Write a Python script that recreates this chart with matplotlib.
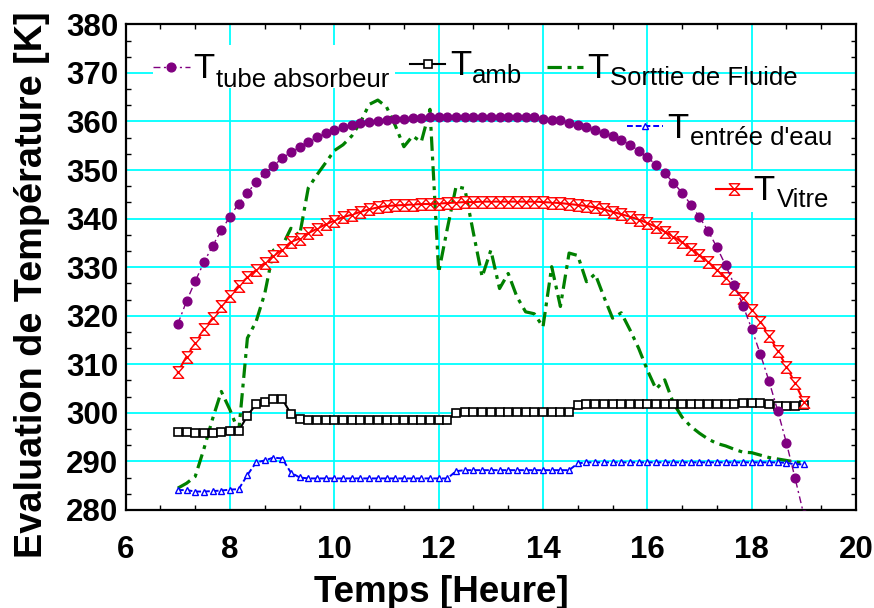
import numpy as np
import matplotlib.pyplot as plt
from matplotlib.path import Path
from matplotlib.patches import Rectangle
from matplotlib.ticker import MultipleLocator, AutoMinorLocator

plt.rcParams['font.family'] = ['Liberation Sans', 'DejaVu Sans']

# one reading every 10 minutes from 7h to 19h
temps = np.linspace(7, 19, 73)

t_tube = [318.3, 323.0, 327.1, 331.0, 334.4, 337.6, 340.4, 343.1, 345.3, 347.5,
          349.3, 350.9, 352.4, 353.7, 354.8, 355.8, 356.7, 357.6, 358.2, 358.8,
          359.3, 359.6, 359.9, 360.0, 360.3, 360.5, 360.6, 360.7, 360.8, 360.9,
          361.0, 361.0, 361.0, 361.0, 361.0, 361.0, 361.0, 361.0, 361.0, 361.0,
          361.0, 360.9, 360.6, 360.4, 360.2, 359.7, 359.3, 358.9, 358.2, 357.7,
          357.0, 356.2, 355.2, 354.0, 352.6, 351.1, 349.3, 347.4, 345.3, 342.9,
          340.3, 337.4, 334.1, 330.4, 326.4, 322.1, 317.3, 312.1, 306.5, 300.4,
          293.8, 286.5, 279.0]

t_amb = [296.1, 296.1, 295.8, 295.8, 295.9, 296.1, 296.3, 296.3, 299.4, 301.8,
         302.3, 302.9, 302.9, 299.8, 298.7, 298.6, 298.6, 298.6, 298.6, 298.6,
         298.6, 298.6, 298.6, 298.6, 298.6, 298.6, 298.6, 298.6, 298.6, 298.6,
         298.6, 298.6, 299.9, 300.2, 300.2, 300.2, 300.2, 300.2, 300.2, 300.2,
         300.2, 300.2, 300.2, 300.2, 300.2, 300.2, 301.6, 301.9, 301.9, 301.9,
         301.9, 301.9, 301.9, 301.9, 301.9, 301.9, 301.9, 301.9, 301.9, 301.9,
         301.9, 301.9, 301.9, 301.9, 301.9, 302.0, 302.0, 302.1, 301.8, 301.5,
         301.4, 301.4, 301.6]

t_sortie = [284.5, 285.5, 286.9, 292.6, 298.8, 304.4, 300.6, 296.1, 315.4, 318.8,
            324.6, 333.5, 334.3, 338.0, 336.5, 346.3, 349.0, 351.5, 354.0, 355.2,
            357.0, 359.8, 363.5, 364.4, 363.0, 359.2, 354.8, 357.0, 355.8, 362.5,
            328.9, 338.0, 346.6, 346.2, 337.0, 328.0, 333.5, 325.6, 328.7, 323.9,
            320.8, 320.4, 317.7, 330.1, 321.9, 332.9, 332.4, 327.0, 328.6, 323.9,
            319.5, 320.6, 317.1, 313.3, 308.8, 304.9, 306.8, 302.0, 299.1, 297.2,
            295.8, 294.6, 293.7, 293.2, 292.5, 291.9, 291.8, 291.3, 290.8, 290.5,
            290.2, 289.9, 289.7]

t_entree = [284.1, 284.1, 283.8, 283.8, 283.9, 284.0, 284.2, 284.3, 287.2, 289.8,
            290.2, 290.8, 290.6, 287.7, 286.7, 286.5, 286.5, 286.5, 286.5, 286.5,
            286.5, 286.5, 286.5, 286.5, 286.5, 286.5, 286.5, 286.5, 286.5, 286.5,
            286.5, 286.5, 288.0, 288.2, 288.2, 288.2, 288.2, 288.2, 288.2, 288.2,
            288.2, 288.2, 288.2, 288.2, 288.2, 288.2, 289.6, 289.8, 289.8, 289.8,
            289.8, 289.8, 289.8, 289.8, 289.8, 289.8, 289.8, 289.8, 289.8, 289.8,
            289.8, 289.8, 289.8, 289.8, 289.8, 289.8, 289.8, 289.8, 289.8, 289.8,
            289.7, 289.4, 289.4]

t_vitre = [308.4, 311.6, 314.3, 317.2, 319.5, 321.9, 324.1, 326.2, 327.9, 329.4,
           330.9, 332.3, 333.6, 335.2, 335.9, 337.0, 337.9, 338.8, 339.6, 340.3,
           340.8, 341.4, 341.9, 342.3, 342.6, 342.7, 342.8, 342.9, 343.0, 343.0,
           343.1, 343.2, 343.3, 343.4, 343.4, 343.5, 343.5, 343.5, 343.5, 343.5,
           343.5, 343.5, 343.4, 343.3, 343.2, 343.0, 342.8, 342.6, 342.3, 341.9,
           341.4, 340.9, 340.4, 339.8, 339.1, 338.3, 337.3, 336.3, 335.1, 333.7,
           332.5, 331.1, 329.4, 327.7, 325.6, 323.6, 321.2, 318.8, 315.8, 312.8,
           309.5, 306.1, 302.3]

# hourglass marker for the glass temperature
hourglass = Path([(-0.9, 1), (0.9, 1), (-0.9, -1), (0.9, -1), (-0.9, 1)],
                 [Path.MOVETO, Path.LINETO, Path.LINETO, Path.LINETO, Path.CLOSEPOLY])

styles = {
    'tube': dict(color='#800080', lw=1, dashes=(5, 2.5, 1.5, 2.5), marker='o', ms=6.3,
                 mfc='#800080', mec='#800080'),
    'amb': dict(color='black', lw=1.5, marker='s', ms=6.3, mfc='white', mec='black', mew=1.2),
    'sortie': dict(color='#008000', lw=2.3, dashes=(4.5, 1.8, 1.2, 1.8)),
    'entree': dict(color='blue', lw=1.4, dashes=(3, 1.5), marker='^', ms=4.8,
                   mfc='white', mec='blue', mew=1),
    'vitre': dict(color='red', lw=1.5, marker=hourglass, ms=8.3, mfc='white', mec='red', mew=1),
}

fig = plt.figure(figsize=(8.74, 6.08), dpi=100)
ax = fig.add_axes([0.1438, 0.1612, 0.8356, 0.7988])

ax.plot(temps, t_sortie, zorder=2, **styles['sortie'])
ax.plot(temps, t_entree, zorder=3, **styles['entree'])
ax.plot(temps, t_amb, zorder=3, **styles['amb'])
ax.plot(temps, t_vitre, zorder=4, **styles['vitre'])
ax.plot(temps, t_tube, zorder=4, **styles['tube'])

ax.set_xlim(6, 20)
ax.set_ylim(280, 380)
ax.xaxis.set_major_locator(MultipleLocator(2))
ax.yaxis.set_major_locator(MultipleLocator(10))
ax.xaxis.set_minor_locator(AutoMinorLocator(3))
ax.yaxis.set_minor_locator(AutoMinorLocator(3))

ax.grid(True, which='major', color='cyan', lw=1.3)
ax.set_axisbelow(True)

for s in ax.spines.values():
    s.set_linewidth(1.6)

ax.tick_params(which='both', direction='in', top=True, right=True, width=1)
ax.tick_params(which='major', length=0, labelsize=22.5)
ax.tick_params(which='minor', length=3.3)
ax.tick_params(axis='x', which='major', pad=18)
ax.tick_params(axis='y', which='major', pad=5.5)
for lab in ax.get_xticklabels() + ax.get_yticklabels():
    lab.set_fontweight('bold')

ax.set_xlabel('Temps [Heure]', fontsize=26.5, fontweight='bold')
ax.xaxis.label.set_va('baseline')
ax.xaxis.set_label_coords(0.4327, -0.1888)
ax.set_ylabel('Evaluation de Température [K]', fontsize=27.3, fontweight='bold')
ax.yaxis.label.set_va('baseline')
ax.yaxis.set_label_coords(-0.115, 0.463)


def legend_entry(key, x0, x1, y, tx, ty, sx, sy, sub, box=None):
    """Line sample plus a big 'T' with its subscript, in axes fraction."""
    if box is not None:
        ax.add_patch(Rectangle(box[:2], box[2], box[3], transform=ax.transAxes,
                               facecolor='white', edgecolor='none', zorder=2.5))
    ax.plot([x0, (x0 + x1) / 2, x1], [y, y, y], transform=ax.transAxes,
            markevery=[1], clip_on=False, zorder=6, **styles[key])
    ax.text(tx, ty, 'T', transform=ax.transAxes, fontsize=25,
            ha='left', va='baseline', zorder=6)
    ax.text(sx, sy, sub, transform=ax.transAxes, fontsize=18.5,
            ha='left', va='baseline', zorder=6)


legend_entry('tube', 0.0374, 0.0880, 0.9115, 0.0922, 0.8888, 0.1236, 0.8715,
             'tube absorbeur', box=(0.0374, 0.8689, 0.3314, 0.0885))
legend_entry('amb', 0.3894, 0.4373, 0.9183, 0.4441, 0.8956, 0.4742, 0.8791, 'amb')
legend_entry('sortie', 0.5769, 0.6262, 0.9121, 0.6317, 0.8894, 0.6632, 0.8750,
             'Sorttie de Fluide')
legend_entry('entree', 0.6864, 0.7357, 0.7912, 0.7412, 0.7659, 0.7727, 0.7515,
             "entrée d'eau")
legend_entry('vitre', 0.8084, 0.8577, 0.6609, 0.8590, 0.6383, 0.8918, 0.6236,
             'Vitre', box=(0.8070, 0.6135, 0.1639, 0.0845))

fig.savefig('out.png', dpi=100)
